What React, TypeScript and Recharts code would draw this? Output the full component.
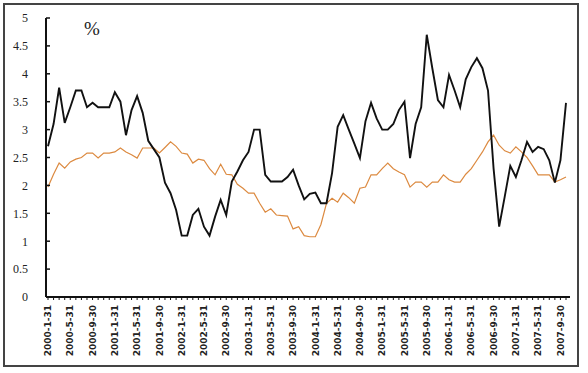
import { Line, LineChart, XAxis, YAxis } from "recharts"

// month labels shown under every 4th month
const TICK_LABELS = [
  "2000-1-31", "2000-5-31", "2000-9-30",
  "2001-1-31", "2001-5-31", "2001-9-30",
  "2002-1-31", "2002-5-31", "2002-9-30",
  "2003-1-31", "2003-5-31", "2003-9-30",
  "2004-1-31", "2004-5-31", "2004-9-30",
  "2005-1-31", "2005-5-31", "2005-9-30",
  "2006-1-31", "2006-5-31", "2006-9-30",
  "2007-1-31", "2007-5-31", "2007-9-30",
]

// black line, monthly, 2000-01 .. 2007-10
const SERIES_A = [
  2.7, 3.1, 3.75, 3.12, 3.4, 3.7, 3.7, 3.4, 3.48, 3.4,
  3.4, 3.4, 3.67, 3.5, 2.9, 3.35, 3.6, 3.3, 2.8, 2.65,
  2.5, 2.05, 1.86, 1.56, 1.1, 1.1, 1.47, 1.58, 1.26, 1.1,
  1.44, 1.74, 1.47, 2.07, 2.25, 2.45, 2.6, 3.0, 3.0, 2.19,
  2.07, 2.07, 2.07, 2.15, 2.28, 2.0, 1.75, 1.85, 1.87, 1.68,
  1.68, 2.22, 3.05, 3.26, 3.0, 2.75, 2.49, 3.15, 3.48, 3.2,
  3.0, 3.0, 3.1, 3.35, 3.5, 2.49, 3.1, 3.4, 4.7, 4.1,
  3.53, 3.4, 3.98, 3.7, 3.4, 3.9, 4.12, 4.28, 4.1, 3.7,
  2.3, 1.26, 1.8, 2.35, 2.15, 2.45, 2.78, 2.6, 2.69, 2.65,
  2.45, 2.05, 2.45, 3.48,
]

// orange line
const SERIES_B = [
  1.97, 2.2, 2.4, 2.31, 2.42, 2.47, 2.5, 2.58, 2.58, 2.49,
  2.58, 2.58, 2.6, 2.67, 2.6, 2.55, 2.49, 2.67, 2.67, 2.67,
  2.58, 2.68, 2.78, 2.7, 2.58, 2.56, 2.4, 2.47, 2.45, 2.3,
  2.19, 2.38, 2.2, 2.19, 2.02, 1.95, 1.86, 1.86, 1.68, 1.52,
  1.58, 1.47, 1.46, 1.45, 1.22, 1.26, 1.1, 1.08, 1.08, 1.3,
  1.68, 1.77, 1.7, 1.86, 1.78, 1.68, 1.95, 1.97, 2.19, 2.19,
  2.3, 2.4, 2.3, 2.24, 2.19, 1.97, 2.06, 2.06, 1.97, 2.06,
  2.06, 2.19, 2.1, 2.06, 2.06, 2.2, 2.3, 2.45, 2.6, 2.78,
  2.9, 2.72, 2.62, 2.58, 2.69, 2.6, 2.5, 2.35, 2.19, 2.19,
  2.19, 2.06, 2.1, 2.15,
]

const Y_TICKS = [0, 0.5, 1, 1.5, 2, 2.5, 3, 3.5, 4, 4.5, 5]

const data = SERIES_A.map((a, i) => ({
  m: `${2000 + Math.floor(i / 12)}-${(i % 12) + 1}`,
  a,
  b: SERIES_B[i],
}))

function XTick({ x, y, index }: any) {
  if (index % 4 !== 0) return null
  return (
    <text
      transform={`translate(${x},${y + 3}) rotate(-90)`}
      textAnchor="end"
      dy="0.35em"
      fontFamily="DejaVu Sans"
      fontWeight="bold"
      fontSize={9}
      fill="#222"
    >
      {TICK_LABELS[index / 4]}
    </text>
  )
}

function YTick({ y, payload }: any) {
  return (
    <g>
      {payload.value > 0 && (
        <line x1={46} x2={50} y1={y} y2={y} stroke="#111" strokeWidth={1.5} />
      )}
      <text
        x={28}
        y={y}
        dy="0.36em"
        textAnchor="end"
        fontFamily="Liberation Serif"
        fontSize={12}
        fill="#222"
      >
        {payload.value}
      </text>
    </g>
  )
}

export default function App() {
  return (
    <div style={{ position: "absolute", left: 0, top: 0, width: 588, height: 373, background: "#fff" }}>
      <div
        style={{
          position: "absolute",
          left: 3,
          top: 3,
          width: 572,
          height: 360,
          border: "2px solid #444",
        }}
      />
      <div
        style={{
          position: "absolute",
          left: 84,
          top: 18,
          fontFamily: "Liberation Serif",
          fontSize: 19,
          color: "#222",
        }}
      >
        %
      </div>
      <div style={{ position: "absolute", left: 0, top: 0 }}>
        <LineChart width={588} height={373} data={data} margin={{ top: 18, right: 18, bottom: 0, left: 0 }}>
          <XAxis
            dataKey="m"
            scale="point"
            interval={0}
            padding={{ left: 2, right: 4 }}
            height={76}
            tick={<XTick />}
            tickSize={3}
            tickMargin={2}
            axisLine={{ stroke: "#111", strokeWidth: 2 }}
            tickLine={{ stroke: "#111", strokeWidth: 1 }}
          />
          <YAxis
            type="number"
            domain={[0, 5]}
            ticks={Y_TICKS}
            width={46}
            tick={<YTick />}
            tickLine={false}
            axisLine={{ stroke: "#111", strokeWidth: 2 }}
          />
          <Line
            dataKey="b"
            type="linear"
            stroke="#dc8a40"
            strokeWidth={1.2}
            dot={false}
            isAnimationActive={false}
          />
          <Line
            dataKey="a"
            type="linear"
            stroke="#111"
            strokeWidth={1.9}
            dot={false}
            isAnimationActive={false}
          />
        </LineChart>
      </div>
    </div>
  )
}
